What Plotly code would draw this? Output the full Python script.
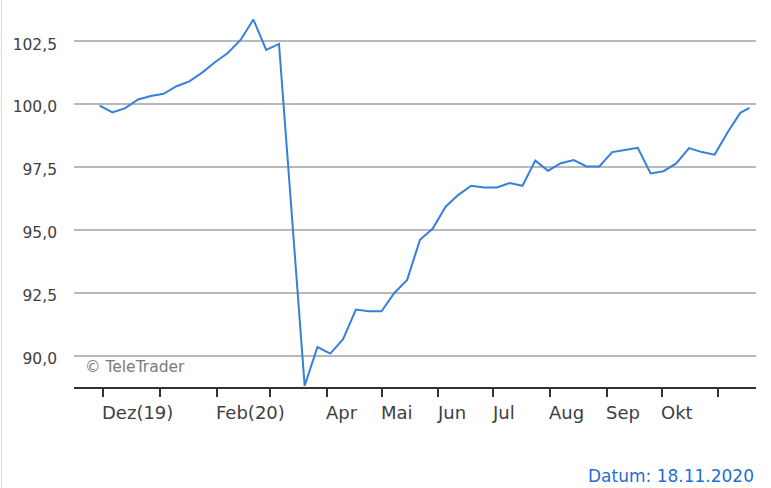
import plotly.graph_objects as go

dates = [
    "2019-11-29", "2019-12-06", "2019-12-13", "2019-12-20", "2019-12-27",
    "2020-01-03", "2020-01-10", "2020-01-17", "2020-01-24", "2020-01-31",
    "2020-02-07", "2020-02-14", "2020-02-21", "2020-02-28", "2020-03-06",
    "2020-03-13", "2020-03-20", "2020-03-27", "2020-04-03", "2020-04-10",
    "2020-04-17", "2020-04-24", "2020-05-01", "2020-05-08", "2020-05-15",
    "2020-05-22", "2020-05-29", "2020-06-05", "2020-06-12", "2020-06-19",
    "2020-06-26", "2020-07-03", "2020-07-10", "2020-07-17", "2020-07-24",
    "2020-07-31", "2020-08-07", "2020-08-14", "2020-08-21", "2020-08-28",
    "2020-09-04", "2020-09-11", "2020-09-18", "2020-09-25", "2020-10-02",
    "2020-10-09", "2020-10-16", "2020-10-23", "2020-10-30", "2020-11-06",
    "2020-11-13", "2020-11-18",
]
values = [
    99.94, 99.67, 99.84, 100.18, 100.32,
    100.41, 100.71, 100.90, 101.25, 101.66,
    102.03, 102.55, 103.36, 102.15, 102.39,
    95.60, 88.80, 90.34, 90.08, 90.65,
    91.83, 91.76, 91.76, 92.49, 93.01,
    94.60, 95.05, 95.92, 96.39, 96.75,
    96.68, 96.68, 96.86, 96.75, 97.75,
    97.35, 97.65, 97.77, 97.52, 97.52,
    98.09, 98.17, 98.26, 97.24, 97.33,
    97.64, 98.25, 98.09, 97.99, 98.87,
    99.65, 99.85,
]

tick_dates = [
    "2019-12-01", "2020-01-01", "2020-02-01", "2020-03-01", "2020-04-01",
    "2020-05-01", "2020-06-01", "2020-07-01", "2020-08-01", "2020-09-01",
    "2020-10-01", "2020-11-01",
]
tick_labels = ["Dez(19)", "", "Feb(20)", "", "Apr", "Mai", "Jun", "Jul",
               "Aug", "Sep", "Okt", ""]

y_ticks = [90.0, 92.5, 95.0, 97.5, 100.0, 102.5]

watermark = "© TeleTrader"
date_note = "Datum: 18.11.2020"

FONT = "DejaVu Sans"
TXT = "#404040"

fig = go.Figure()
fig.add_trace(go.Scatter(
    x=dates, y=values, mode="lines",
    line=dict(color="#3580dc", width=2),
    hoverinfo="skip", showlegend=False,
))

annotations = []
for d, lab in zip(tick_dates, tick_labels):
    if lab:
        annotations.append(dict(
            x=d, xref="x", y=0, yref="paper", text=lab, showarrow=False,
            xanchor="left", yanchor="middle", yshift=-25, xshift=-3,
            font=dict(family=FONT, size=18, color=TXT),
        ))
annotations.append(dict(
    x=0.013, xref="paper", y=0.054, yref="paper", text=watermark,
    showarrow=False, xanchor="left", yanchor="middle",
    font=dict(family=FONT, size=15.5, color="#7a7a7a"),
))
annotations.append(dict(
    x=1.0, xref="paper", y=-0.236, yref="paper", text=date_note,
    showarrow=False, xanchor="right", yanchor="middle",
    font=dict(family=FONT, size=17, color="#1f6fd1"),
))

fig.update_layout(
    width=771, height=488,
    margin=dict(l=74, r=15, t=10, b=101),
    paper_bgcolor="white", plot_bgcolor="white",
    separators=",.",
    showlegend=False,
    font=dict(family=FONT, color=TXT),
    annotations=annotations,
    shapes=[dict(
        type="line", xref="paper", yref="paper",
        x0=-0.1063, x1=-0.1063, y0=-0.27, y1=1.03,
        line=dict(color="#dcdcdc", width=1),
    )],
    xaxis=dict(
        type="date",
        range=["2019-11-15", "2020-11-21 14:00"],
        tickvals=tick_dates, ticktext=tick_labels,
        showticklabels=False,
        ticks="outside", ticklen=8, tickwidth=2, tickcolor="#333333",
        showline=True, linecolor="#333333", linewidth=2,
        showgrid=False, zeroline=False, fixedrange=True,
    ),
    yaxis=dict(
        range=[88.75, 103.74],
        tickvals=y_ticks, tickformat=".1f",
        showgrid=True, gridcolor="#b9b9b9", gridwidth=2,
        showline=False, zeroline=False, ticks="",
        ticklabelstandoff=16, ticklabelshift=3,
        tickfont=dict(family=FONT, size=15.5, color=TXT),
        fixedrange=True,
    ),
)

fig.write_html(
    "out.html",
    config={"displayModeBar": False},
    post_script="document.body.style.margin='0';document.body.style.overflow='hidden';",
)
